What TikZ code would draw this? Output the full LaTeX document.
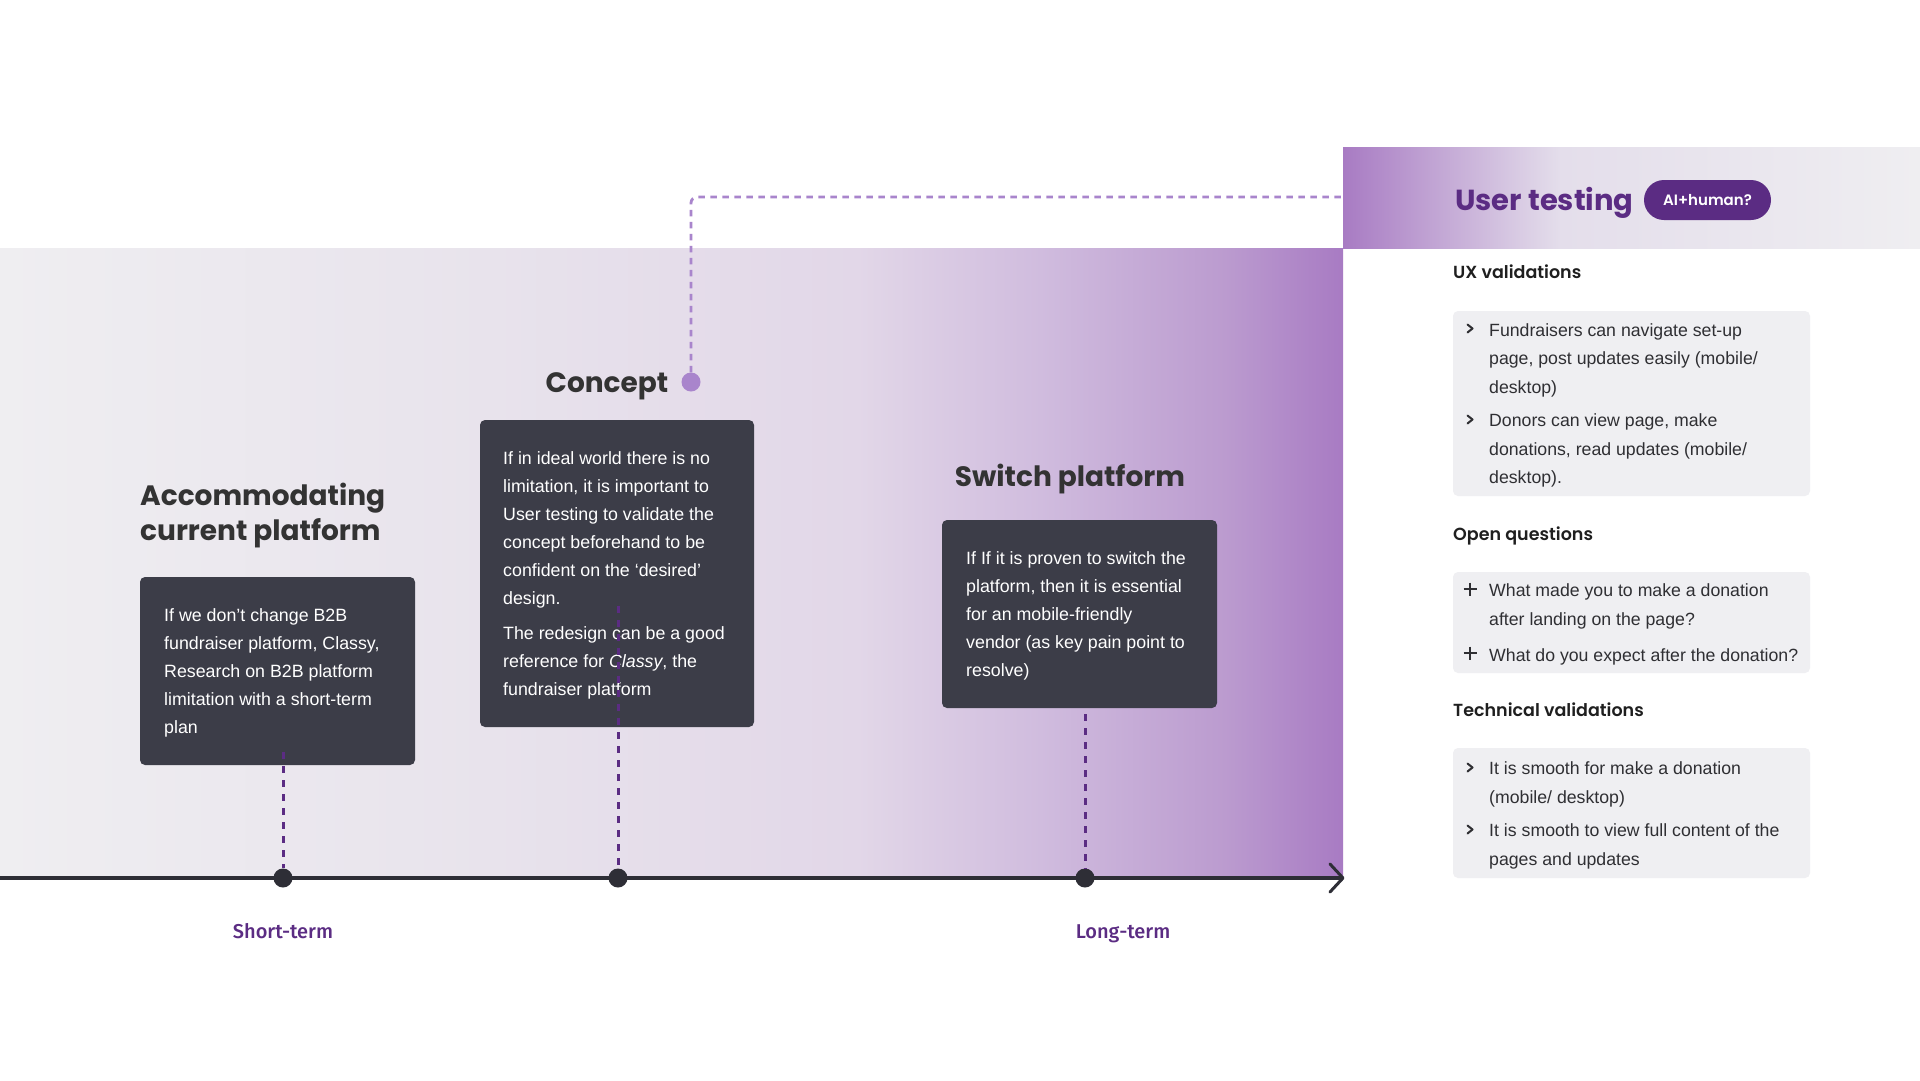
\documentclass[tikz,border=0pt]{standalone}
\usepackage{fontspec}
\setmainfont{Liberation Sans}
\newfontfamily\titlefont{Poppins}
\newfontfamily\headfont{Poppins}[UprightFont={* SemiBold}]
\newfontfamily\termfont{Fira Sans}[UprightFont={* Medium}]
\definecolor{boxdark}{HTML}{3C3D48}
\definecolor{purpledark}{HTML}{5B2C83}
\definecolor{lav}{HTML}{A985CC}
\definecolor{titlegray}{HTML}{333333}
\definecolor{cardbg}{HTML}{EFEFF2}
\definecolor{linedark}{HTML}{2E2E36}
\definecolor{cardtext}{HTML}{2F2F33}
\definecolor{bgA}{HTML}{EFEEF1}
\definecolor{bgB}{HTML}{E8E3EC}
\definecolor{bgC}{HTML}{E2D7E8}
\definecolor{bgD}{HTML}{D0BCDE}
\definecolor{bgE}{HTML}{BB9BCF}
\definecolor{bgF}{HTML}{A87BC3}
\definecolor{hdB}{HTML}{E4DEEB}
\tikzset{
 darkbox/.style={fill=boxdark, rounded corners=5pt, draw=none, inner sep=0pt},
 boxtext/.style={text=white, align=left, inner sep=0pt, anchor=west, font=\fontsize{17.8}{28}\selectfont},
 maintitle/.style={text=titlegray, align=left, inner sep=0pt, font=\titlefont\bfseries\fontsize{28}{35}\selectfont},
 tdash/.style={draw=purpledark, line width=3pt, dash pattern=on 7pt off 7pt},
 ldash/.style={draw=lav, line width=2.8pt, dash pattern=on 6.5pt off 5.5pt},
 tdot/.style={circle, fill=linedark, minimum size=19pt, inner sep=0pt},
 cdot/.style={circle, fill=lav, minimum size=19pt, inner sep=0pt},
 termlabel/.style={text=purpledark, inner sep=0pt, anchor=base, font=\termfont\fontsize{20}{24}\selectfont},
 card/.style={fill=cardbg, rounded corners=5pt, draw=none, inner sep=0pt},
 cardtxt/.style={text=cardtext, align=left, inner sep=0pt, anchor=west, font=\fontsize{17.7}{28.5}\selectfont},
 sechead/.style={text=black!88, inner sep=0pt, anchor=base west, font=\headfont\fontsize{17.5}{20}\selectfont},
 chev/.style={draw=cardtext, line width=2pt, line cap=round, line join=round},
 plus/.style={draw=cardtext, line width=1.7pt}
}
\begin{document}
\begin{tikzpicture}[x=1pt,y=-1pt]
\useasboundingbox (0,0) rectangle (1920,1080);
\fill[white] (0,0) rectangle (1920,1080);
% main band
\shade[left color=bgA, right color=bgB] (0,248.6) rectangle (490.5,878);
\shade[left color=bgB, right color=bgC] (490,248.6) rectangle (857.5,878);
\shade[left color=bgC, right color=bgD] (857,248.6) rectangle (1040.5,878);
\shade[left color=bgD, right color=bgE] (1040,248.6) rectangle (1225.5,878);
\shade[left color=bgE, right color=bgF] (1225,248.6) rectangle (1343,878);
% header band
\shade[left color=bgF, right color=hdB] (1343,147) rectangle (1560.5,248.6);
\shade[left color=hdB, right color=bgA] (1560,147) rectangle (1920,248.6);

% titles
\node[maintitle, anchor=base west] (t1) at (140,540) {Accommodating\\current platform};
\node[maintitle, anchor=base] (t2) at (607,392) {Concept};
\node[maintitle, anchor=base] (t3) at (1070,486) {Switch platform};

% boxes
\node[darkbox, minimum width=275pt, minimum height=188pt] (b1) at (277.5,671) {};
\node[boxtext] (b1t) at (164,672.5) {If we don't change B2B\\fundraiser platform, Classy,\\Research on B2B platform\\limitation with a short-term\\plan};
\node[darkbox, minimum width=274pt, minimum height=307pt] (b2) at (617,573.5) {};
\node[boxtext] (b2t) at (503,575.5) {If in ideal world there is no\\limitation, it is important to\\User testing to validate the\\concept beforehand to be\\confident on the ‘desired’\\design.\\[7pt]The redesign can be a good\\reference for \textit{Classy}, the\\fundraiser platform};
\node[darkbox, minimum width=275pt, minimum height=188pt] (b3) at (1079.5,614) {};
\node[boxtext] (b3t) at (966,615.5) {If If it is proven to switch the\\platform, then it is essential\\for an mobile-friendly\\vendor (as key pain point to\\resolve)};

% timeline
\coordinate (tl0) at (0,878);
\coordinate (tl1) at (1343,878);
\draw[linedark, line width=3.5pt] (tl0) -- (tl1);
\draw[linedark, line width=3pt, line cap=round, line join=round] (1330,864) -- (tl1) -- (1330,892);
\node[tdot] (d1) at (283,878) {};
\node[tdot] (d2) at (618,878) {};
\node[tdot] (d3) at (1085,878) {};
\coordinate (s1) at (283,752);
\coordinate (s2) at (618,606);
\coordinate (s3) at (1085,714);
\draw[tdash] (s1) -- (d1);
\draw[tdash] (s2) -- (d2);
\draw[tdash] (s3) -- (d3);
\node[termlabel] (st) at (283,938) {Short-term};
\node[termlabel] (lt) at (1123,938) {Long-term};

% concept dot and link to header
\node[cdot] (cd) at (691,382) {};
\coordinate (hdr) at (1343,197);
\draw[ldash, rounded corners=6pt] (cd.north) -- (691,197) -- (hdr);

% right panel header
\node[text=purpledark, inner sep=0pt, anchor=base west, font=\titlefont\bfseries\fontsize{29}{34}\selectfont] (ut) at (1455,210) {User testing};
\node[fill=purpledark, rounded corners=20pt, minimum width=127pt, minimum height=40pt, inner sep=0pt, text=white, font=\headfont\fontsize{15}{18}\selectfont] (badge) at (1707.5,200) {AI+human?};

% sections
\node[sechead] (h1) at (1453,278) {UX validations};
\node[card, minimum width=357pt, minimum height=185pt] (c1) at (1631.5,403.5) {};
\draw[chev] (1467.5,324.5) -- (1472.5,328.5) -- (1467.5,332.5);
\node[cardtxt] (i11) at (1489,360) {Fundraisers can navigate set-up\\page, post updates easily (mobile/\\desktop)};
\draw[chev] (1467.5,415.5) -- (1472.5,419.5) -- (1467.5,423.5);
\node[cardtxt] (i12) at (1489,450.5) {Donors can view page, make\\donations, read updates (mobile/\\desktop).};

\node[sechead] (h2) at (1453,540) {Open questions};
\node[card, minimum width=357pt, minimum height=101pt] (c2) at (1631.5,622.5) {};
\draw[plus] (1463.5,589) -- (1476.5,589) (1470,582.5) -- (1470,595.5);
\node[cardtxt] (i21) at (1489,606.5) {What made you to make a donation\\after landing on the page?};
\draw[plus] (1463.5,653) -- (1476.5,653) (1470,646.5) -- (1470,659.5);
\node[cardtxt] (i22) at (1489,656.5) {What do you expect after the donation?};

\node[sechead] (h3) at (1453,716) {Technical validations};
\node[card, minimum width=357pt, minimum height=130pt] (c3) at (1631.5,813) {};
\draw[chev] (1467.5,763.5) -- (1472.5,767.5) -- (1467.5,771.5);
\node[cardtxt] (i31) at (1489,784.5) {It is smooth for make a donation\\(mobile/ desktop)};
\draw[chev] (1467.5,825.5) -- (1472.5,829.5) -- (1467.5,833.5);
\node[cardtxt] (i32) at (1489,846.5) {It is smooth to view full content of the\\pages and updates};
\end{tikzpicture}
\end{document}
